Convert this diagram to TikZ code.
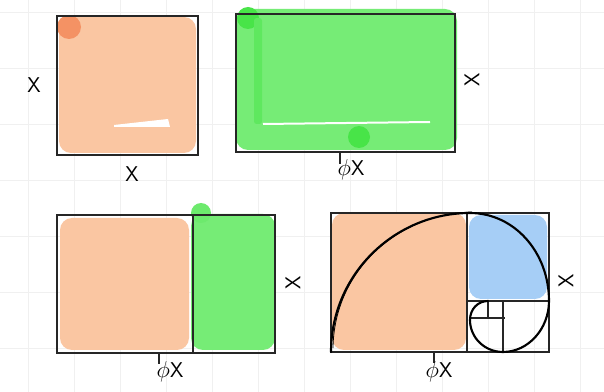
\documentclass[tikz,border=0pt]{standalone}
\definecolor{peachc}{RGB}{250,198,162}
\definecolor{dorange}{RGB}{244,146,100}
\definecolor{lgreenc}{RGB}{118,236,118}
\definecolor{bgreen}{RGB}{72,228,72}
\definecolor{lbluec}{RGB}{166,206,246}
\begin{document}
\begin{tikzpicture}[x=0.75pt,y=-0.75pt,
  frame/.style={draw=black!85,line width=0.9pt},
  peach/.style={fill=peachc,rounded corners=9pt},
  lgreen/.style={fill=lgreenc,rounded corners=9pt},
  lblue/.style={fill=lbluec,rounded corners=9pt},
  lbl/.style={font=\sffamily\fontsize{16}{18}\selectfont, inner sep=0pt},
  spiral/.style={draw=black,line width=1.6pt,line cap=round,line join=round}]
\useasboundingbox (0,0) rectangle (604,392);
\fill[white] (0,0) rectangle (604,392);
% faint grid
\foreach \gx in {28,74,...,600} \draw[black!6,line width=0.5pt] (\gx,0) -- (\gx,392);
\foreach \gy in {12,68,...,392} \draw[black!6,line width=0.5pt] (0,\gy) -- (604,\gy);

% ---- box 1
\path[peach] (59,17) rectangle (196,153);
\fill[dorange] (69,27) circle (12);
\fill[white] (114,125) -- (168,119) -- (170,127) -- (114,127) -- cycle;
\draw[frame] (57,16) rectangle (198,155);
\node[lbl] (x1l) at (34,85) {X};
\node[lbl] (x1b) at (132,174) {X};

% ---- box 2
\path[lgreen] (236,9) rectangle (457,150);
\fill[bgreen] (248,18) circle (11);
\fill[bgreen] (359,137) circle (11);
\fill[lgreenc!50!bgreen,rounded corners=2pt] (254,18) rectangle (262,124);
\draw[white,line width=1.5pt] (263,124) -- (430,122);
\draw[frame] (236,14) rectangle (455,152);
\draw[frame] (340,152) -- (340,164);
\node[lbl] (x2b) at (351,170) {$\phi$X};
\node[lbl,rotate=90] (x2r) at (472,80) {X};

% ---- box 3
\path[peach] (60,218) rectangle (189,350);
\path[lgreen] (191,214) rectangle (275,350);
\fill[lgreenc!80!bgreen] (201,213) circle (10);
\draw[frame] (57,215) rectangle (275,353);
\draw[frame] (193,215) -- (193,353);
\draw[frame] (159,353) -- (159,364);
\node[lbl] (x3b) at (170,372) {$\phi$X};
\node[lbl,rotate=90] (x3r) at (293,283) {X};

% ---- box 4
\path[peach] (332,213) rectangle (466,350);
\path[lblue] (469,215) rectangle (547,299);
\draw[frame] (331,213) rectangle (549,352);
\draw[frame] (467,213) -- (467,352);
\draw[frame] (467,301) -- (549,301);
\draw[frame] (503,301) -- (503,352);
\draw[frame] (470,318) -- (505,318);
\draw[frame] (488,301) -- (488,318);
\draw[frame] (434,352) -- (434,363);
\node[lbl] (x4b) at (439,372) {$\phi$X};
\node[lbl,rotate=90] (x4r) at (566,281) {X};

% golden spiral
\coordinate (s0) at (331,352);
\coordinate (s1) at (470,213);
\coordinate (s2) at (549,301);
\coordinate (s3) at (503,352);
\coordinate (s4) at (470,320);
\coordinate (s5) at (488,301);
\draw[spiral] (s0) .. controls (331,275) and (394,213) .. (s1)
  .. controls (514,213) and (549,252) .. (s2)
  .. controls (549,329) and (528,352) .. (s3)
  .. controls (485,352) and (470,338) .. (s4)
  .. controls (470,309) and (478,301) .. (s5);
\draw[black,line width=0.6pt] (333,348) .. controls (334,272) and (396,214) .. (472,212);
\end{tikzpicture}
\end{document}
